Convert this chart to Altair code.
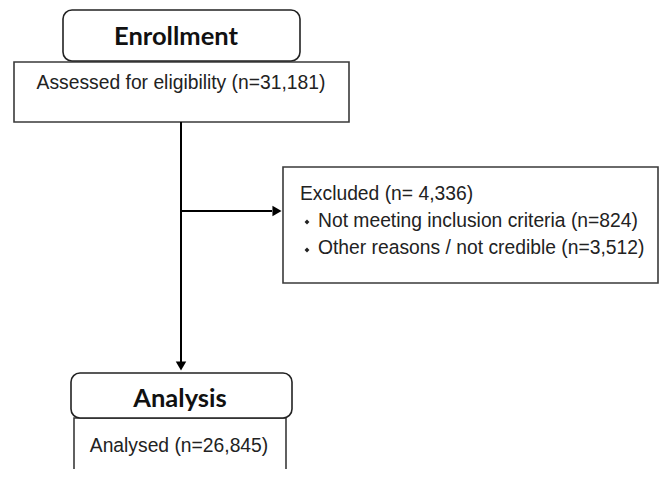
import altair as alt
import pandas as pd

# ---- content ----
box_names = ["Enrollment", "Assessed", "Excluded", "Analysis", "Analysed"]
box_rounded = [True, False, False, True, False]

heading_texts = ["Enrollment", "Analysis"]
body_texts = ["Assessed for eligibility (n=31,181)", "Analysed (n=26,845)"]
excluded_texts = ["Excluded (n= 4,336)",
                  "Not meeting inclusion criteria (n=824)",
                  "Other reasons / not credible (n=3,512)"]

# ---- layout (page pixel coordinates) ----
box_x1 = [63, 14, 283, 71, 74]
box_x2 = [300, 349, 658, 292, 286]
box_y1 = [10, 62, 167, 373, 418]
box_y2 = [61, 122, 283, 418, 495]

heading_x = [176, 180]
heading_y = [45, 407]
body_x = [181, 179]
body_y = [89, 452]
excl_x = [300, 318, 318]
excl_y = [200, 227, 254]
bullet_x = [307, 307]
bullet_y = [222, 250]

seg_x1 = [181, 181]
seg_x2 = [181, 272]
seg_y1 = [122, 211]
seg_y2 = [366, 211]
head_x = [181, 277]
head_y = [366, 211]
head_shape = ["triangle-down", "triangle-right"]

PW, PH = 667, 477
M = 8
xs = alt.Scale(domain=[0, PW], range=[0, PW])
ys = alt.Scale(domain=[0, PH], range=[0, PH])
X = lambda f: alt.X(f, type="quantitative", scale=xs, axis=None)
Y = lambda f: alt.Y(f, type="quantitative", scale=ys, axis=None)

boxes = pd.DataFrame({"name": box_names, "x1": box_x1, "x2": box_x2,
                      "y1": box_y1, "y2": box_y2, "rounded": box_rounded})
plain = boxes[~boxes["rounded"]]
rounded = boxes[boxes["rounded"]]

plain_layer = alt.Chart(plain).mark_rect(
    fill="white", stroke="#3a3a3a", strokeWidth=1.6, clip=True
).encode(x=X("x1"), x2="x2", y=Y("y1"), y2="y2")

rounded_layer = alt.Chart(rounded).mark_rect(
    fill="white", stroke="#222222", strokeWidth=1.6, cornerRadius=9, clip=True
).encode(x=X("x1"), x2="x2", y=Y("y1"), y2="y2")

segs = pd.DataFrame({"x1": seg_x1, "x2": seg_x2, "y1": seg_y1, "y2": seg_y2})
seg_layer = alt.Chart(segs).mark_rule(color="black", strokeWidth=2).encode(
    x=X("x1"), x2="x2", y=Y("y1"), y2="y2")

heads = pd.DataFrame({"x": head_x, "y": head_y, "shape": head_shape})
head_layer = alt.Chart(heads).mark_point(
    filled=True, color="black", size=110, opacity=1
).encode(x=X("x"), y=Y("y"),
         shape=alt.Shape("shape:N", scale=None, legend=None))

hd = pd.DataFrame({"t": heading_texts, "x": heading_x, "y": heading_y})
hd_layer = alt.Chart(hd).mark_text(
    font="Lato", fontWeight="bold", fontSize=25.5, align="center",
    baseline="alphabetic", color="#111111"
).encode(x=X("x"), y=Y("y"), text="t:N")

bd = pd.DataFrame({"t": body_texts, "x": body_x, "y": body_y})
bd_layer = alt.Chart(bd).mark_text(
    font="Liberation Sans", fontSize=19.3, align="center",
    baseline="alphabetic", color="#222222"
).encode(x=X("x"), y=Y("y"), text="t:N")

ex = pd.DataFrame({"t": excluded_texts, "x": excl_x, "y": excl_y})
ex_layer = alt.Chart(ex).mark_text(
    font="Liberation Sans", fontSize=19.3, align="left",
    baseline="alphabetic", color="#222222"
).encode(x=X("x"), y=Y("y"), text="t:N")

bl = pd.DataFrame({"x": bullet_x, "y": bullet_y})
bl_layer = alt.Chart(bl).mark_point(
    shape="diamond", filled=True, color="#222222", size=24, opacity=1
).encode(x=X("x"), y=Y("y"))

chart = alt.layer(
    plain_layer, rounded_layer, seg_layer, head_layer,
    hd_layer, bd_layer, ex_layer, bl_layer
).properties(
    width=PW, height=PH, autosize=alt.AutoSizeParams(type="none"),
    padding={"left": -M, "top": -M, "right": -M, "bottom": -M}
).configure_view(stroke=None, strokeWidth=0
).configure(background="white")

chart.save("out.html", embed_options={"renderer": "svg", "actions": False})
